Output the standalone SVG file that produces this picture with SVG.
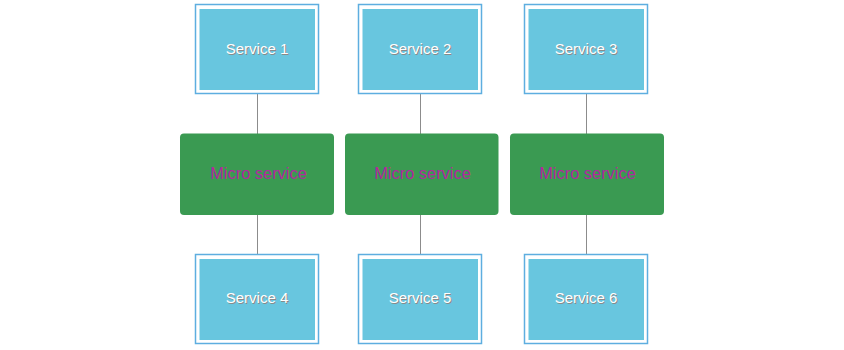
<svg xmlns="http://www.w3.org/2000/svg" width="844" height="350" viewBox="0 0 844 350">
<style>
.outer{fill:#ffffff;stroke:#5eaee0;stroke-width:1.5}
.inner{fill:#68c6df}
.micro{fill:#3a9a52}
.lbl{font-family:"Liberation Sans",Arial,sans-serif;font-size:15px;text-anchor:middle}
.sh{fill:#8a8a8a}
.fg{fill:#ffffff}
.mt{font-family:"Liberation Sans",Arial,sans-serif;font-size:16.4px;text-anchor:middle;fill:#b3279f}
.conn{stroke:#8c8c8c;stroke-width:1;fill:none}
</style>
<rect width="844" height="350" fill="#ffffff"/>
<g id="connectors">
<line class="conn" x1="257.5" y1="94" x2="257.5" y2="134"/>
<line class="conn" x1="257.5" y1="214" x2="257.5" y2="254"/>
<line class="conn" x1="420.5" y1="94" x2="420.5" y2="134"/>
<line class="conn" x1="420.5" y1="214" x2="420.5" y2="254"/>
<line class="conn" x1="586.5" y1="94" x2="586.5" y2="134"/>
<line class="conn" x1="586.5" y1="214" x2="586.5" y2="254"/>
</g>
<g id="service1">
<rect class="outer" x="195.5" y="4.5" width="123" height="89"/>
<rect class="inner" x="199.5" y="9" width="115.5" height="81"/>
<text class="lbl sh" x="258" y="55">Service 1</text>
<text class="lbl fg" x="257" y="54">Service 1</text>
</g>
<g id="service2">
<rect class="outer" x="358.5" y="4.5" width="123" height="89"/>
<rect class="inner" x="362.5" y="9" width="115.5" height="81"/>
<text class="lbl sh" x="421" y="55">Service 2</text>
<text class="lbl fg" x="420" y="54">Service 2</text>
</g>
<g id="service3">
<rect class="outer" x="524.5" y="4.5" width="123" height="89"/>
<rect class="inner" x="528.5" y="9" width="115.5" height="81"/>
<text class="lbl sh" x="587" y="55">Service 3</text>
<text class="lbl fg" x="586" y="54">Service 3</text>
</g>
<g id="micro1">
<rect class="micro" x="180" y="133.5" width="154" height="81.5" rx="4"/>
<text class="mt" x="258.5" y="179">Micro service</text>
</g>
<g id="micro2">
<rect class="micro" x="345" y="133.5" width="153.5" height="81.5" rx="4"/>
<text class="mt" x="422.5" y="179">Micro service</text>
</g>
<g id="micro3">
<rect class="micro" x="510" y="133.5" width="154" height="81.5" rx="4"/>
<text class="mt" x="587.5" y="179">Micro service</text>
</g>
<g id="service4">
<rect class="outer" x="195.5" y="254.5" width="123" height="89"/>
<rect class="inner" x="199.5" y="259" width="115.5" height="81"/>
<text class="lbl sh" x="258" y="304">Service 4</text>
<text class="lbl fg" x="257" y="303">Service 4</text>
</g>
<g id="service5">
<rect class="outer" x="358.5" y="254.5" width="123" height="89"/>
<rect class="inner" x="362.5" y="259" width="115.5" height="81"/>
<text class="lbl sh" x="421" y="304">Service 5</text>
<text class="lbl fg" x="420" y="303">Service 5</text>
</g>
<g id="service6">
<rect class="outer" x="524.5" y="254.5" width="123" height="89"/>
<rect class="inner" x="528.5" y="259" width="115.5" height="81"/>
<text class="lbl sh" x="587" y="304">Service 6</text>
<text class="lbl fg" x="586" y="303">Service 6</text>
</g>
</svg>
